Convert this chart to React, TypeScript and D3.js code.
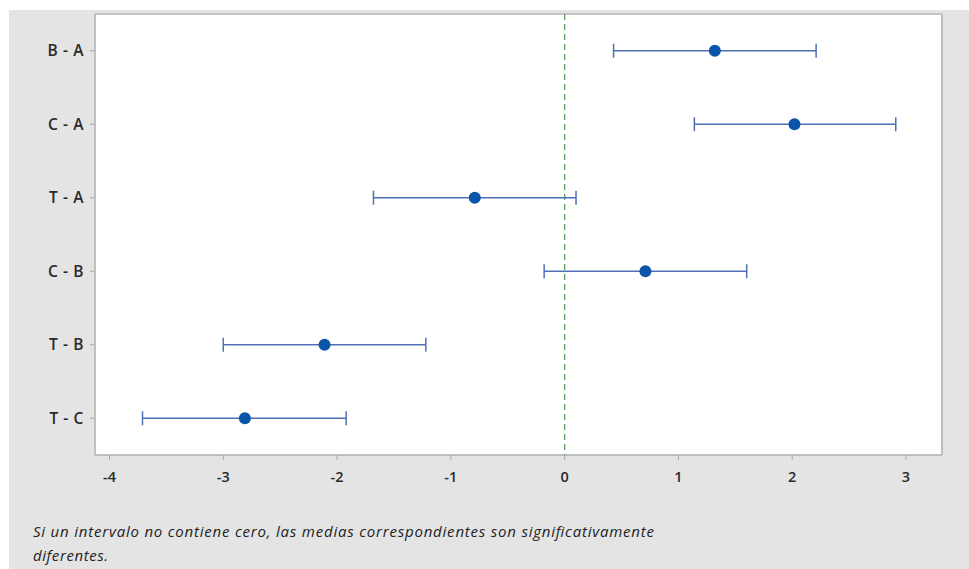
import React from "react";
import * as d3 from "d3";

const categories = ["B - A", "C - A", "T - A", "C - B", "T - B", "T - C"];
const means = [1.32, 2.02, -0.79, 0.71, -2.11, -2.81];
const lows = [0.43, 1.14, -1.68, -0.18, -3.0, -3.71];
const highs = [2.21, 2.91, 0.1, 1.6, -1.22, -1.92];
const xTicks = [-4, -3, -2, -1, 0, 1, 2, 3];
const footnote = [
  "Si un intervalo no contiene cero, las medias correspondientes son significativamente",
  "diferentes.",
];

const W = 969;
const H = 569;
const plot = { left: 95, top: 14, right: 942, bottom: 455 };

export default function App() {
  const x = d3.scaleLinear().domain([-4, 3]).range([109.5, 906]);
  const y = d3
    .scalePoint<string>()
    .domain(categories)
    .range([plot.top, plot.bottom])
    .padding(0.5);

  const font = "'Open Sans', 'DejaVu Sans', sans-serif";
  const barColor = "#4f6fb5";
  const dotColor = "#0a55a8";

  return (
    <svg
      width={W}
      height={H}
      style={{ position: "absolute", left: 0, top: 0 }}
      fontFamily={font}
    >
      <rect x={0} y={0} width={W} height={H} fill="#ffffff" />
      <rect x={9} y={10} width={W - 9} height={H - 10} fill="#e4e4e4" />
      <rect
        x={plot.left}
        y={plot.top}
        width={plot.right - plot.left}
        height={plot.bottom - plot.top}
        fill="#ffffff"
      />
      {/* top & right border */}
      <line x1={plot.left} x2={plot.right} y1={plot.top} y2={plot.top} stroke="#c4c4c4" strokeWidth={2} />
      <line x1={plot.right} x2={plot.right} y1={plot.top} y2={plot.bottom} stroke="#bdbdbd" strokeWidth={2} />
      {/* axes */}
      <line x1={plot.left} x2={plot.left} y1={plot.top} y2={plot.bottom} stroke="#b0b0b0" strokeWidth={1.5} />
      <line x1={plot.left} x2={plot.right} y1={plot.bottom} y2={plot.bottom} stroke="#b0b0b0" strokeWidth={1.5} />

      {/* zero reference */}
      <line
        x1={x(0)}
        x2={x(0)}
        y1={plot.top}
        y2={plot.bottom}
        stroke="#5a9e5a"
        strokeWidth={1.3}
        strokeDasharray="6,4"
      />

      {/* x ticks */}
      {xTicks.map((t) => (
        <g key={t}>
          <line x1={x(t)} x2={x(t)} y1={plot.bottom} y2={plot.bottom + 5} stroke="#a8a8a8" strokeWidth={1} />
          <text
            x={x(t)}
            y={plot.bottom + 27}
            textAnchor="middle"
            fontSize={14.5}
            fontWeight={600}
            fill="#2a2a2a"
          >
            {t}
          </text>
        </g>
      ))}

      {/* y ticks */}
      {categories.map((c) => (
        <g key={c}>
          <line x1={plot.left - 5} x2={plot.left} y1={y(c)!} y2={y(c)!} stroke="#a8a8a8" strokeWidth={1} />
          <text
            x={plot.left - 11}
            y={y(c)!}
            dy="0.36em"
            textAnchor="end"
            fontSize={15.5}
            fontWeight={600}
            letterSpacing={0.6}
            fill="#2a2a2a"
          >
            {c}
          </text>
        </g>
      ))}

      {/* intervals */}
      {categories.map((c, i) => {
        const cy = y(c)!;
        return (
          <g key={c}>
            <line x1={x(lows[i])} x2={x(highs[i])} y1={cy} y2={cy} stroke={barColor} strokeWidth={1.5} />
            <line x1={x(lows[i])} x2={x(lows[i])} y1={cy - 7} y2={cy + 7} stroke={barColor} strokeWidth={1.5} />
            <line x1={x(highs[i])} x2={x(highs[i])} y1={cy - 7} y2={cy + 7} stroke={barColor} strokeWidth={1.5} />
            <circle cx={x(means[i])} cy={cy} r={6} fill={dotColor} />
          </g>
        );
      })}

      {/* footnote */}
      {footnote.map((line, i) => (
        <text
          key={i}
          x={33}
          y={537 + i * 24}
          fontSize={15}
          fontStyle="italic"
          fill="#222"
          textLength={i === 0 ? 621 : 75}
          lengthAdjust="spacing"
        >
          {line}
        </text>
      ))}
    </svg>
  );
}
